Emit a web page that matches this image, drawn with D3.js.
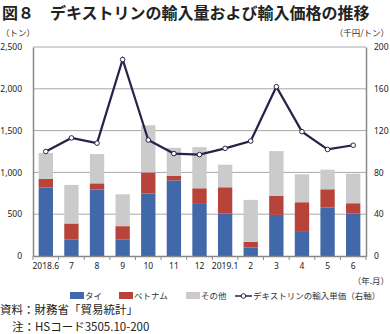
<!DOCTYPE html>
<html>
<head>
<meta charset="utf-8">
<script src="https://cdn.jsdelivr.net/npm/d3@7"></script>
<style>
  body { margin: 0; background: #fff; }
  text { font-family: "Noto Sans CJK JP", "Noto Sans", sans-serif; }
</style>
</head>
<body>
<div id="chart"></div>
<script>
// data
const months = ["2018.6", "7", "8", "9", "10", "11", "12", "2019.1", "2", "3", "4", "5", "6"];
const thai = [818, 195, 794, 195, 746, 905, 623, 508, 103, 492, 298, 580, 508];
const vietnam = [103, 194, 75, 162, 254, 52, 187, 314, 68, 227, 345, 218, 123];
const others = [310, 461, 350, 381, 564, 337, 492, 270, 500, 536, 334, 234, 354];
const unitPrice = [100, 113, 108, 188, 111, 98, 97, 103, 110, 162, 119, 102, 106];
const leftTicks = [0, 500, 1000, 1500, 2000, 2500];
const rightTicks = [0, 40, 80, 120, 160, 200];

const colors = { "タイ": "#4169a9", "ベトナム": "#b8433b", "その他": "#cbcbcb" };
const lineColor = "#24234a";

const width = 390, height = 334;
const margin = { top: 47, right: 24, bottom: 78, left: 33 };

const svg = d3.select("#chart").append("svg")
  .attr("width", width)
  .attr("height", height);

const rows = months.map((m, i) => ({ month: m, "タイ": thai[i], "ベトナム": vietnam[i], "その他": others[i] }));
const keys = ["タイ", "ベトナム", "その他"];
const stacked = d3.stack().keys(keys)(rows);

const x = d3.scaleBand()
  .domain(months)
  .range([margin.left, width - margin.right])
  .paddingInner(0.44)
  .paddingOuter(0.22);

const y = d3.scaleLinear().domain([0, 2500]).range([height - margin.bottom, margin.top]);
const y2 = d3.scaleLinear().domain([0, 200]).range([height - margin.bottom, margin.top]);

// title
svg.append("text")
  .attr("x", 2).attr("y", 19)
  .attr("font-size", 16).attr("font-weight", "bold")
  .attr("fill", "#222")
  .text("図８　デキストリンの輸入量および輸入価格の推移");

// units
svg.append("text").attr("x", 1).attr("y", 36).attr("font-size", 8.5).attr("fill", "#333").text("（トン）");
svg.append("text").attr("x", 389).attr("y", 36).attr("font-size", 8.5).attr("fill", "#333")
  .attr("text-anchor", "end").text("（千円/トン）");

// gridlines
svg.append("g").selectAll("line")
  .data(leftTicks.slice(1))
  .enter().append("line")
  .attr("x1", margin.left).attr("x2", width - margin.right)
  .attr("y1", d => y(d)).attr("y2", d => y(d))
  .attr("stroke", "#a8a8a8").attr("stroke-width", 1);

// bars
svg.append("g").selectAll("g")
  .data(stacked)
  .enter().append("g")
  .attr("fill", d => colors[d.key])
  .selectAll("rect")
  .data(d => d)
  .enter().append("rect")
  .attr("x", d => x(d.data.month))
  .attr("y", d => y(d[1]))
  .attr("width", x.bandwidth())
  .attr("height", d => y(d[0]) - y(d[1]));

// left axis
const leftAxis = svg.append("g")
  .attr("transform", `translate(${margin.left},0)`)
  .call(d3.axisLeft(y).tickValues(leftTicks).tickFormat(d3.format(",")).tickSize(0).tickPadding(11));
leftAxis.select(".domain").attr("stroke", "#888").attr("stroke-width", 1.5);
leftAxis.selectAll("text").attr("font-size", 8.5).attr("fill", "#222")
  .style("font-family", "'Noto Sans', sans-serif");

// right axis
const rightAxis = svg.append("g")
  .attr("transform", `translate(${width - margin.right},0)`)
  .call(d3.axisRight(y2).tickValues(rightTicks).tickSize(0).tickPadding(8));
rightAxis.select(".domain").attr("stroke", "#888").attr("stroke-width", 1.5);
rightAxis.selectAll("text").attr("font-size", 8.5).attr("fill", "#222")
  .style("font-family", "'Noto Sans', sans-serif");

// bottom axis
const bottom = svg.append("g")
  .attr("transform", `translate(0,${height - margin.bottom})`)
  .call(d3.axisBottom(x).tickSize(0).tickPadding(7));
bottom.select(".domain").attr("stroke", "#888").attr("stroke-width", 1.5);
bottom.selectAll("text").attr("font-size", 8.5).attr("fill", "#222")
  .style("font-family", "'Noto Sans', sans-serif");
bottom.selectAll(".sep")
  .data(d3.range(months.length + 1))
  .enter().append("line")
  .attr("x1", i => margin.left + i * (width - margin.left - margin.right) / months.length)
  .attr("x2", i => margin.left + i * (width - margin.left - margin.right) / months.length)
  .attr("y1", 0).attr("y2", 4)
  .attr("stroke", "#888");

svg.append("text").attr("x", 389).attr("y", 284).attr("font-size", 8.5).attr("fill", "#333")
  .attr("text-anchor", "end").text("（年.月）");

// price line
const line = d3.line()
  .x((d, i) => x(months[i]) + x.bandwidth() / 2)
  .y(d => y2(d));
svg.append("path")
  .datum(unitPrice)
  .attr("fill", "none")
  .attr("stroke", lineColor)
  .attr("stroke-width", 2.2)
  .attr("d", line);
svg.append("g").selectAll("circle")
  .data(unitPrice)
  .enter().append("circle")
  .attr("cx", (d, i) => x(months[i]) + x.bandwidth() / 2)
  .attr("cy", d => y2(d))
  .attr("r", 2.3)
  .attr("fill", "#fff")
  .attr("stroke", lineColor)
  .attr("stroke-width", 1);

// legend
const legend = svg.append("g").attr("transform", "translate(0,296)");
const legendItems = [
  { label: "タイ", x: 70, color: colors["タイ"] },
  { label: "ベトナム", x: 119, color: colors["ベトナム"] },
  { label: "その他", x: 186, color: colors["その他"] }
];
legendItems.forEach(d => {
  legend.append("rect").attr("x", d.x).attr("y", -4).attr("width", 14).attr("height", 7).attr("fill", d.color);
  legend.append("text").attr("x", d.x + 15).attr("y", 3).attr("font-size", 8.5).attr("fill", "#333").text(d.label);
});
legend.append("line").attr("x1", 235).attr("x2", 252).attr("y1", 0).attr("y2", 0)
  .attr("stroke", lineColor).attr("stroke-width", 1.5);
legend.append("circle").attr("cx", 243.5).attr("cy", 0).attr("r", 2.3)
  .attr("fill", "#fff").attr("stroke", lineColor);
legend.append("text").attr("x", 253).attr("y", 3).attr("font-size", 8.5).attr("fill", "#333")
  .text("デキストリンの輸入単価（右軸）");

// notes
svg.append("text").attr("x", 0).attr("y", 314).attr("font-size", 11.5).attr("fill", "#222")
  .text("資料：財務省「貿易統計」");
svg.append("text").attr("x", 12).attr("y", 331).attr("font-size", 11.5).attr("fill", "#222")
  .text("注：HSコード3505.10-200");
</script>
</body>
</html>
